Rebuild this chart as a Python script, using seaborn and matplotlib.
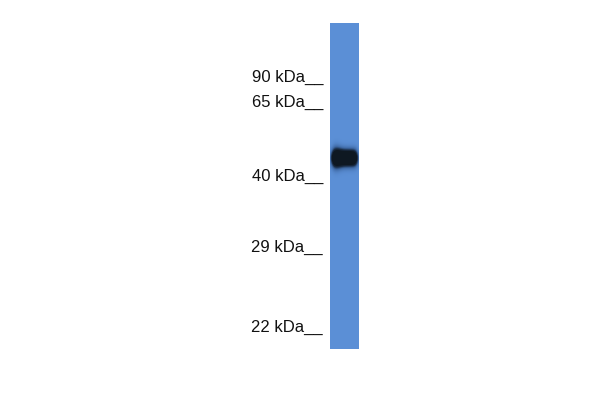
import numpy as np
import matplotlib
matplotlib.use("Agg")
import matplotlib.pyplot as plt
from matplotlib.colors import LinearSegmentedColormap
import seaborn as sns

# Marker ladder (label, y position in the image, px)
marker_labels = ["90 kDa", "65 kDa", "40 kDa", "29 kDa", "22 kDa"]
marker_y = [82, 107, 181, 252, 332]

# Detected band(s): y centre (px) and relative strength
band_y = [158]
band_strength = [1.0]

sns.set_style("white")
plt.rcParams['font.family'] = ['Liberation Sans', 'DejaVu Sans']

fig = plt.figure(figsize=(6, 4), dpi=100)
ax = fig.add_axes([0, 0, 1, 1])
ax.set_xlim(0, 600)
ax.set_ylim(400, 0)
ax.axis("off")

for lab, y in zip(marker_labels, marker_y):
    ax.text(323, y, lab + "__", ha="right", va="baseline", fontsize=12, color="#111111")

# Lane
lane_top, lane_bot, lane_left, lane_right = 23, 349, 330, 359
rows = np.arange(lane_top, lane_bot) + 0.5
cols = np.arange(lane_left, lane_right) + 0.5
Y, X = np.meshgrid(rows, cols, indexing="ij")
inten = np.zeros_like(Y)
for yc, s in zip(band_y, band_strength):
    xprof = 1 / (1 + np.exp(-(X - 332.5) / 1.3)) * 1 / (1 + np.exp((X - 356.5) / 1.3))
    sig = 5.2 + 0.9 * np.exp(-0.5 * ((X - 336) / 4) ** 2)
    yprof = np.exp(-0.5 * ((Y - yc) / sig) ** 2)
    inten += s * 2.2 * xprof * yprof
inten = np.clip(inten, 0, 1)

cmap = LinearSegmentedColormap.from_list(
    "blot", ["#5b8fd6", "#3f6aa6", "#1b2e48", "#0e1822"])
lane_ax = fig.add_axes([lane_left / 600, 1 - lane_bot / 400,
                        (lane_right - lane_left) / 600, (lane_bot - lane_top) / 400])
sns.heatmap(inten, ax=lane_ax, cmap=cmap, vmin=0, vmax=1, cbar=False,
            xticklabels=False, yticklabels=False)
lane_ax.axis("off")

fig.savefig("out.png", dpi=100)
